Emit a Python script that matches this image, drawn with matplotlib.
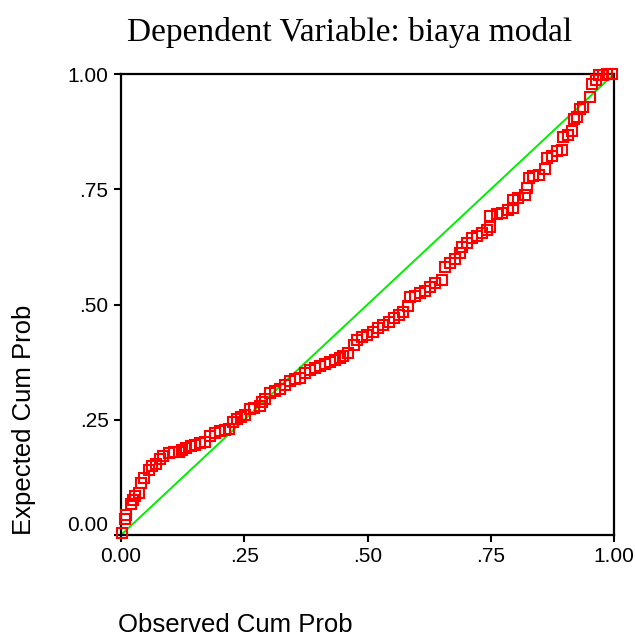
import matplotlib
matplotlib.use("Agg")
import matplotlib.pyplot as plt
import matplotlib.transforms as mtransforms

# observed / expected cumulative probabilities
observed = [0.002, 0.009, 0.011, 0.020, 0.024, 0.029, 0.036, 0.041, 0.046, 0.056,
            0.063, 0.072, 0.080, 0.086, 0.097, 0.107, 0.117, 0.124, 0.132, 0.141,
            0.151, 0.161, 0.171, 0.181, 0.191, 0.201, 0.211, 0.220, 0.227, 0.235,
            0.243, 0.252, 0.261, 0.270, 0.281, 0.286, 0.293, 0.303, 0.313, 0.323,
            0.333, 0.343, 0.353, 0.364, 0.374, 0.384, 0.394, 0.404, 0.414, 0.424,
            0.434, 0.445, 0.451, 0.461, 0.472, 0.478, 0.489, 0.499, 0.512, 0.522,
            0.532, 0.543, 0.553, 0.563, 0.573, 0.582, 0.586, 0.597, 0.607, 0.617,
            0.627, 0.637, 0.651, 0.657, 0.668, 0.678, 0.688, 0.691, 0.701, 0.711,
            0.722, 0.732, 0.742, 0.749, 0.749, 0.762, 0.772, 0.786, 0.796, 0.796,
            0.806, 0.820, 0.823, 0.828, 0.836, 0.847, 0.860, 0.864, 0.874, 0.884,
            0.894, 0.897, 0.907, 0.914, 0.918, 0.924, 0.931, 0.938, 0.951, 0.955,
            0.964, 0.970, 0.978, 0.986, 0.995]
expected = [0.005, 0.034, 0.043, 0.067, 0.076, 0.085, 0.092, 0.112, 0.123, 0.141,
            0.150, 0.155, 0.164, 0.171, 0.177, 0.179, 0.181, 0.184, 0.188, 0.192,
            0.195, 0.199, 0.202, 0.215, 0.221, 0.226, 0.228, 0.229, 0.246, 0.251,
            0.257, 0.260, 0.273, 0.275, 0.280, 0.289, 0.294, 0.307, 0.313, 0.316,
            0.325, 0.333, 0.338, 0.340, 0.351, 0.358, 0.362, 0.367, 0.372, 0.376,
            0.380, 0.383, 0.388, 0.394, 0.412, 0.423, 0.430, 0.434, 0.441, 0.448,
            0.456, 0.463, 0.470, 0.477, 0.484, 0.497, 0.516, 0.518, 0.524, 0.530,
            0.539, 0.547, 0.553, 0.581, 0.591, 0.598, 0.611, 0.624, 0.634, 0.644,
            0.649, 0.656, 0.662, 0.669, 0.692, 0.696, 0.699, 0.704, 0.709, 0.727,
            0.732, 0.738, 0.752, 0.774, 0.779, 0.781, 0.795, 0.817, 0.822, 0.832,
            0.835, 0.863, 0.868, 0.877, 0.902, 0.907, 0.923, 0.928, 0.951, 0.978,
            0.986, 0.998, 0.998, 0.999, 0.999]

ticks = [0, 0.25, 0.5, 0.75, 1.0]
tick_labels = ["0.00", ".25", ".50", ".75", "1.00"]

fig = plt.figure(figsize=(6.35, 6.37), dpi=100)
ax = fig.add_axes([121 / 635, 1 - 535 / 637, 493 / 635, 461 / 637])

# reference diagonal
ax.plot([0, 1], [0, 1], color="#00ee00", lw=1.4, zorder=2)
ax.plot(observed, expected, ls="none", marker="s", markersize=7,
        markerfacecolor="none", markeredgecolor="#ff0000", markeredgewidth=1.5,
        clip_on=False, zorder=3)

ax.set_xlim(0, 1)
ax.set_ylim(0, 1)
ax.set_xticks(ticks)
ax.set_xticklabels(tick_labels)
ax.set_yticks(ticks)
ax.set_yticklabels(tick_labels)
ax.tick_params(direction="out", length=5, width=1.5, labelsize=15, pad=4,
               labelfontfamily="Liberation Sans")
for sp in ax.spines.values():
    sp.set_linewidth(1.6)

# lowest y label sits a little above its tick, as in the original
lbl0 = ax.get_yticklabels()[0]
lbl0.set_transform(lbl0.get_transform() +
                   mtransforms.ScaledTranslation(0, 8 / 72, fig.dpi_scale_trans))

fig.text(350 / 635, 1 - 41 / 637, "Dependent Variable: biaya modal",
         ha="center", va="baseline", fontsize=24, family="Liberation Serif")
fig.text(118 / 635, 1 - 632 / 637, "Observed Cum Prob",
         ha="left", va="baseline", fontsize=18.5, family="Liberation Sans")
fig.text(31 / 635, 1 - 535 / 637, "Expected Cum Prob", rotation=90,
         ha="left", va="baseline", fontsize=18.5, family="Liberation Sans",
         rotation_mode="anchor")

fig.savefig("out.png", dpi=100)
